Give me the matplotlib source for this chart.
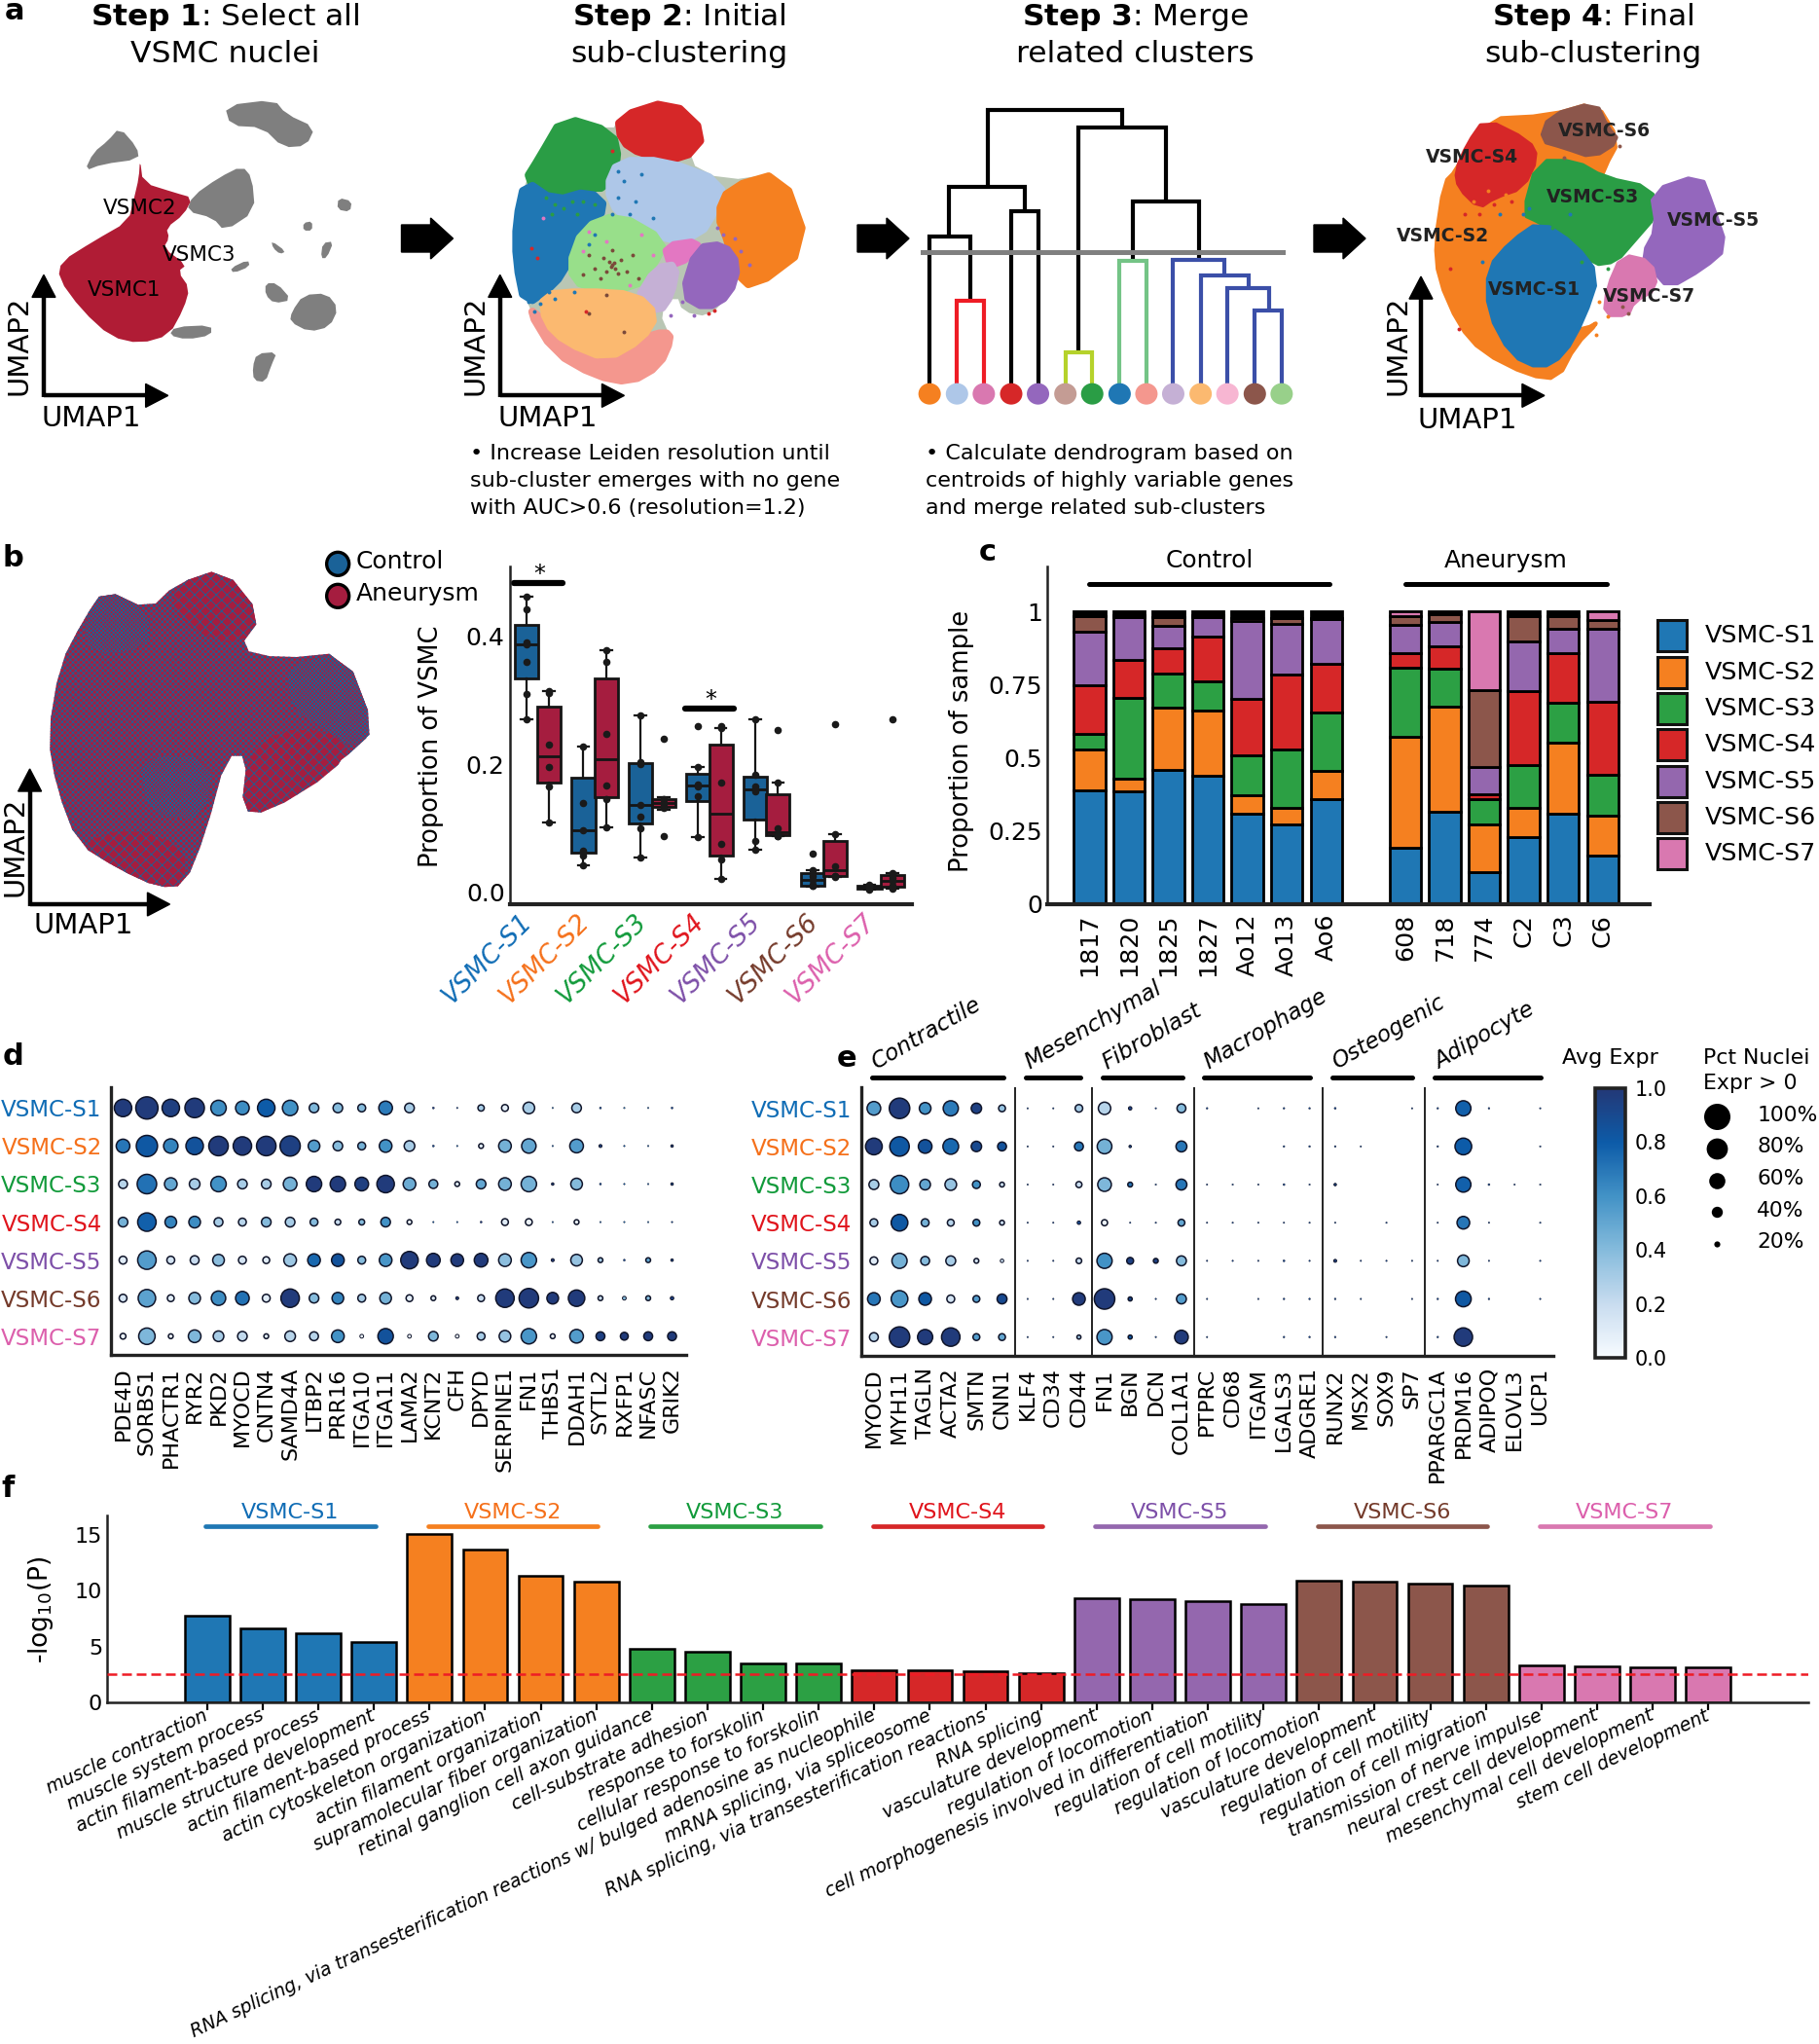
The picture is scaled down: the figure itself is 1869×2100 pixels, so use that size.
import numpy as np
import matplotlib
matplotlib.use("Agg")
import matplotlib.pyplot as plt
from matplotlib.colors import LinearSegmentedColormap
from matplotlib.patches import Polygon, Ellipse, Rectangle
from matplotlib.cm import ScalarMappable

plt.rcParams["font.family"] = ["DejaVu Sans"]
plt.rcParams["mathtext.fontset"] = "dejavusans"
plt.rcParams["mathtext.default"] = "regular"
plt.rcParams["hatch.linewidth"] = 0.6

W, H = 1869, 2100

# ---- data ----
SUBTYPES = ["VSMC-S1", "VSMC-S2", "VSMC-S3", "VSMC-S4", "VSMC-S5", "VSMC-S6", "VSMC-S7"]
FILL_COLORS = ["#1f77b4", "#f58020", "#2ca044", "#d62728", "#9467ae", "#8c564b", "#d978b0"]
LABEL_COLORS = ["#0f6cb5", "#f5701a", "#119a3a", "#e0141c", "#7d4fa8", "#743a2a", "#dc5fac"]
CONTROL_BLUE = "#1a6298"
ANEURYSM_RED = "#a51d3f"

# panel b boxes: control / aneurysm pairs per subtype
BOX_Q1 = [.334, .171, .062, .148, .108, .133, .143, .057, .113, .089, .010, .025, .005, .009]
BOX_MED = [.388, .213, .097, .208, .136, .139, .167, .123, .160, .094, .020, .035, .009, .018]
BOX_Q3 = [.417, .290, .179, .334, .202, .146, .185, .231, .181, .153, .030, .080, .010, .027]
BOX_LO = [.271, .109, .042, .102, .054, .129, .086, .021, .067, .087, .009, .024, .004, .006]
BOX_HI = [.462, .315, .227, .378, .277, .149, .196, .256, .270, .171, .035, .091, .012, .030]
BOX_POINTS = [
    [.462, .442, .391, .388, .360, .310, .271],
    [.315, .311, .230, .195, .165, .109],
    [.227, .140, .097, .065, .058, .042],
    [.378, .360, .247, .167, .145, .102],
    [.277, .203, .200, .136, .118, .100, .054],
    [.240, .146, .140, .135, .132, .088],
    [.259, .196, .168, .165, .150, .086],
    [.260, .256, .171, .076, .052, .021],
    [.270, .183, .165, .158, .080, .067],
    [.253, .171, .100, .090, .088, .087],
    [.060, .035, .025, .020, .012, .010, .010],
    [.262, .091, .040, .025, .025, .024],
    [.012, .010, .008, .006, .004],
    [.270, .030, .022, .018, .010, .006],
]

# panel c stacked fractions, one list per subtype
SAMPLES = ["1817", "1820", "1825", "1827", "Ao12", "Ao13", "Ao6", "608", "718", "774", "C2", "C3", "C6"]
SAMPLE_POS = [0, 1, 2, 3, 4, 5, 6, 8, 9, 10, 11, 12, 13]
FRAC_S1 = [.388, .387, .459, .439, .308, .271, .359, .194, .315, .108, .229, .308, .165]
FRAC_S2 = [.139, .040, .212, .222, .063, .057, .096, .376, .359, .165, .100, .245, .139]
FRAC_S3 = [.053, .276, .117, .101, .136, .199, .199, .236, .130, .087, .147, .135, .138]
FRAC_S4 = [.168, .131, .085, .152, .194, .256, .166, .050, .076, .017, .252, .169, .250]
FRAC_S5 = [.181, .146, .077, .066, .267, .175, .155, .096, .085, .093, .170, .085, .249]
FRAC_S6 = [.054, .007, .031, .006, .010, .020, .002, .031, .024, .261, .085, .041, .029]
FRAC_S7 = [.017, .013, .019, .014, .022, .022, .023, .017, .011, .269, .017, .017, .030]
# the top slice is so thin in these bars that only its outline shows
S7_HIDDEN = ["1817", "1820", "1825", "1827", "Ao12", "Ao13", "Ao6", "718", "C2", "C3"]

# panel d dot plot
D_GENES = ["PDE4D", "SORBS1", "PHACTR1", "RYR2", "PKD2", "MYOCD", "CNTN4", "SAMD4A", "LTBP2", "PRR16",
           "ITGA10", "ITGA11", "LAMA2", "KCNT2", "CFH", "DPYD", "SERPINE1", "FN1", "THBS1", "DDAH1",
           "SYTL2", "RXFP1", "NFASC", "GRIK2"]
D_PCT = [
    [65, 84, 65, 73, 57, 50, 65, 57, 34, 34, 27, 50, 34, 4, 2, 21, 23, 42, 2, 34, 4, 2, 2, 4],
    [50, 80, 53, 65, 73, 69, 73, 76, 42, 34, 27, 46, 38, 4, 2, 15, 46, 53, 2, 50, 8, 2, 2, 6],
    [31, 73, 46, 38, 57, 34, 34, 50, 57, 57, 50, 65, 46, 31, 15, 34, 46, 57, 6, 42, 4, 2, 2, 6],
    [34, 69, 42, 42, 31, 27, 34, 34, 27, 19, 19, 34, 15, 2, 2, 4, 23, 23, 2, 15, 2, 2, 2, 2],
    [27, 69, 27, 31, 42, 27, 23, 46, 46, 46, 27, 46, 65, 50, 46, 50, 46, 57, 8, 42, 15, 4, 15, 6],
    [27, 65, 23, 42, 53, 50, 27, 69, 34, 42, 27, 42, 23, 15, 8, 23, 69, 73, 42, 61, 15, 11, 15, 10],
    [19, 61, 15, 46, 38, 34, 15, 38, 31, 46, 11, 57, 11, 34, 11, 27, 42, 57, 15, 50, 31, 27, 31, 31],
]
D_EXPR = [
    [.98, .98, .96, .98, .62, .62, .80, .60, .42, .40, .40, .68, .30, .95, .90, .30, .08, .30, .70, .30, .90, .70, .70, .90],
    [.70, .82, .65, .85, .98, .98, .98, .95, .55, .40, .45, .60, .30, .90, .80, .10, .45, .50, .80, .55, .95, .80, .80, .95],
    [.25, .72, .50, .30, .60, .30, .30, .45, .98, .98, .96, .98, .48, .45, .10, .50, .45, .45, .95, .40, .90, .80, .80, .90],
    [.45, .78, .65, .62, .30, .25, .40, .30, .40, .20, .40, .60, .05, .80, .80, .98, .10, .05, .80, .05, .80, .70, .70, .90],
    [.10, .55, .15, .20, .38, .15, .10, .33, .75, .85, .40, .58, .98, .98, .98, .98, .38, .58, .98, .35, .30, .90, .50, .90],
    [.15, .52, .10, .40, .62, .72, .10, .98, .40, .65, .30, .45, .08, .10, .98, .20, .98, .98, .98, .98, .20, .40, .40, .95],
    [.05, .42, .05, .42, .30, .22, .10, .25, .25, .60, .05, .85, .05, .42, .05, .30, .35, .58, .05, .55, .95, .98, .98, .98],
]

# panel e dot plot
E_GENES = ["MYOCD", "MYH11", "TAGLN", "ACTA2", "SMTN", "CNN1", "KLF4", "CD34", "CD44", "FN1", "BGN", "DCN",
           "COL1A1", "PTPRC", "CD68", "ITGAM", "LGALS3", "ADGRE1", "RUNX2", "MSX2", "SOX9", "SP7", "PPARGC1A",
           "PRDM16", "ADIPOQ", "ELOVL3", "UCP1"]
E_PCT = [
    [50, 77, 42, 56, 37, 23, 2, 2, 26, 45, 10, 2, 31, 3, 0, 2, 3, 3, 4, 0, 0, 2, 3, 56, 3, 0, 2],
    [62, 73, 50, 58, 37, 31, 2, 2, 31, 54, 6, 0, 39, 0, 0, 0, 3, 3, 3, 2, 0, 0, 3, 62, 0, 0, 2],
    [35, 69, 38, 42, 27, 15, 2, 2, 20, 50, 15, 2, 39, 2, 2, 2, 4, 2, 6, 0, 0, 0, 2, 56, 4, 2, 2],
    [27, 62, 27, 23, 23, 15, 2, 2, 10, 20, 2, 2, 23, 2, 2, 2, 2, 2, 2, 0, 2, 0, 2, 46, 2, 0, 2],
    [27, 56, 31, 35, 15, 10, 2, 2, 18, 56, 23, 15, 35, 2, 2, 2, 4, 2, 8, 2, 2, 2, 2, 42, 2, 0, 2],
    [46, 62, 46, 27, 23, 35, 2, 2, 46, 77, 12, 2, 35, 2, 0, 2, 3, 3, 3, 2, 0, 2, 3, 58, 3, 0, 2],
    [31, 77, 56, 69, 23, 23, 2, 2, 12, 56, 12, 2, 50, 2, 0, 0, 3, 3, 3, 0, 2, 0, 3, 69, 0, 0, 0],
]
E_EXPR = [
    [.55, .98, .60, .68, .95, .35, .9, .9, .30, .25, .95, .9, .40, .9, .9, .9, .9, .9, .9, .9, .9, .9, .9, .78, .9, .9, .9],
    [.98, .82, .85, .75, .90, .85, .9, .9, .70, .45, .90, .9, .70, .9, .9, .9, .9, .9, .9, .9, .9, .9, .9, .80, .9, .9, .9],
    [.30, .62, .50, .35, .60, .20, .9, .9, .20, .42, .70, .9, .70, .9, .9, .9, .9, .9, .9, .9, .9, .9, .9, .78, .9, .9, .9],
    [.30, .82, .45, .25, .60, .20, .9, .9, .90, .05, .90, .9, .50, .9, .9, .9, .9, .9, .9, .9, .9, .9, .9, .70, .9, .9, .9],
    [.10, .45, .40, .30, .15, .20, .9, .9, .20, .60, .95, .95, .40, .9, .9, .9, .9, .9, .95, .9, .9, .9, .9, .42, .9, .9, .9],
    [.70, .58, .82, .15, .55, .90, .9, .9, .98, .98, .90, .9, .55, .9, .9, .9, .9, .9, .9, .9, .9, .9, .9, .82, .9, .9, .9],
    [.25, .98, .98, .98, .55, .50, .9, .9, .30, .58, .80, .9, .98, .9, .9, .9, .9, .9, .9, .9, .9, .9, .9, .98, .9, .9, .9],
]
E_GROUPS = ["Contractile", "Mesenchymal", "Fibroblast", "Macrophage", "Osteogenic", "Adipocyte"]
E_GROUP_SPANS = [(192, 383), (415, 495), (527, 643), (675, 829), (861, 977), (1010, 1164)]
E_SEPARATORS = [5.5, 8.5, 12.5, 17.5, 21.5]
SIZE_LEGEND = [100, 80, 60, 40, 20]

# panel f bars
F_TERMS = ["muscle contraction", "muscle system process", "actin filament-based process",
           "muscle structure development", "actin filament-based process", "actin cytoskeleton organization",
           "actin filament organization", "supramolecular fiber organization",
           "retinal ganglion cell axon guidance", "cell-substrate adhesion", "response to forskolin",
           "cellular response to forskolin",
           "RNA splicing, via transesterification reactions w/ bulged adenosine as nucleophile",
           "mRNA splicing, via spliceosome", "RNA splicing, via transesterification reactions", "RNA splicing",
           "vasculature development", "regulation of locomotion",
           "cell morphogenesis involved in differentiation", "regulation of cell motility",
           "regulation of locomotion", "vasculature development", "regulation of cell motility",
           "regulation of cell migration", "transmission of nerve impulse", "neural crest cell development",
           "mesenchymal cell development", "stem cell development"]
F_VALUES = [7.8, 6.66, 6.2, 5.4, 15.1, 13.7, 11.35, 10.85, 4.8, 4.5, 3.5, 3.5, 2.9, 2.85, 2.8, 2.6,
            9.35, 9.2, 9.1, 8.8, 10.9, 10.8, 10.6, 10.5, 3.3, 3.2, 3.15, 3.15]
F_THRESHOLD = 2.5

# outlines (crop coordinates of each zoom)
RED_NUCLEI = [(240, 475), (245, 545), (300, 575), (330, 590), (315, 640), (285, 680), (290, 710), (280, 740), (320, 790),
              (305, 810), (325, 860), (315, 920), (290, 1000), (240, 1025), (190, 1005), (140, 925), (100, 830),
              (105, 780), (160, 720), (220, 660), (230, 590), (238, 530)]
GREY_NUCLEI = [
    [(385, 315), (470, 297), (490, 340), (540, 380), (525, 435), (485, 440), (450, 380), (395, 375)],
    [(205, 380), (235, 440), (238, 475), (175, 490), (145, 510), (160, 455), (185, 420)],
    [(415, 495), (432, 530), (437, 630), (385, 690), (365, 650), (320, 630), (330, 585), (375, 530)],
    [(580, 590), (603, 600), (600, 632), (578, 625)],
    [(520, 665), (535, 660), (535, 688), (520, 688)],
    [(465, 718), (490, 750), (480, 758), (468, 740)],
    [(553, 725), (572, 720), (560, 770), (550, 770)],
    [(395, 800), (425, 775), (428, 795), (400, 815)],
    [(455, 845), (475, 845), (500, 895), (470, 905), (455, 880)],
    [(520, 880), (560, 875), (580, 920), (565, 975), (530, 990), (497, 960), (500, 930)],
    [(300, 975), (362, 970), (362, 1000), (320, 1013), (290, 1000)],
    [(440, 1055), (475, 1050), (465, 1090), (455, 1140), (435, 1135), (433, 1095)],
]
STEP2_OUTLINE = [(965, 350), (1050, 390), (1060, 350), (1150, 300), (1210, 400), (1175, 480), (1240, 540), (1340, 515),
                 (1385, 735), (1290, 860), (1260, 820), (1250, 880), (1215, 945), (1170, 930), (1160, 880), (1130, 930),
                 (1150, 1010), (1130, 1090), (1080, 1140), (1020, 1120), (950, 1050), (905, 920), (885, 780), (885, 660),
                 (900, 540), (925, 470)]
STEP2_REGIONS = [
    ("#2a9d45", [(965, 350), (1050, 395), (1060, 480), (1040, 560), (1000, 560), (950, 600), (900, 540), (925, 470)]),
    ("#d62728", [(1060, 350), (1150, 300), (1210, 400), (1170, 480), (1100, 460), (1065, 420)]),
    ("#aec7e8", [(1060, 480), (1140, 480), (1240, 545), (1225, 630), (1200, 700), (1140, 720), (1060, 640), (1040, 560)]),
    ("#f58020", [(1250, 560), (1340, 515), (1385, 735), (1290, 860), (1260, 810), (1250, 730), (1230, 640)]),
    ("#1f77b4", [(900, 540), (950, 600), (1010, 570), (1040, 620), (1000, 680), (975, 780), (950, 850), (900, 910), (885, 780), (885, 660)]),
    ("#98df8a", [(1060, 640), (1140, 720), (1120, 790), (1090, 860), (1000, 860), (975, 800), (1000, 680)]),
    ("#e377c2", [(1140, 735), (1200, 720), (1180, 770), (1150, 790)]),
    ("#9467bd", [(1195, 740), (1240, 730), (1265, 790), (1250, 880), (1210, 920), (1170, 880)]),
    ("#c5b0d5", [(1125, 800), (1160, 790), (1150, 880), (1130, 930), (1090, 900)]),
    ("#f4978e", [(905, 920), (935, 960), (970, 1020), (1040, 1070), (1100, 1010), (1140, 990), (1150, 1010), (1130, 1090), (1080, 1140), (1020, 1120), (950, 1050)]),
    ("#fbb970", [(930, 880), (1000, 870), (1090, 880), (1125, 940), (1100, 1010), (1040, 1070), (970, 1020), (935, 960)]),
]
STEP2_SPECKLES = [
    ("#7b4a3a", [(1050, 790), (1045, 780), (1055, 800), (1035, 770), (1065, 775), (1040, 810), (1060, 815), (1020, 800),
                 (1075, 810), (1010, 760), (1030, 830), (1085, 760), (1000, 820), (1095, 830), (1050, 745), (1040, 880),
                 (1070, 990), (1010, 935), (1048, 795), (1052, 785)]),
    ("#2a9d45", [(950, 610), (965, 620), (935, 590), (980, 600), (945, 640), (990, 640), (1020, 610), (1000, 600)]),
    ("#1f77b4", [(1060, 510), (1070, 540), (1090, 600), (1060, 590), (1100, 520), (1080, 640), (1120, 650), (1050, 640),
                 (905, 900), (925, 905), (915, 930), (950, 890), (940, 870), (985, 870), (1020, 700), (1010, 730)]),
    ("#9467bd", [(1170, 900), (1190, 940), (1150, 940), (1240, 700), (1260, 710), (1270, 750), (1230, 680), (1285, 790)]),
    ("#d62728", [(1215, 935), (1225, 925), (1005, 930), (920, 770), (910, 740), (1050, 450)]),
    ("#e377c2", [(1000, 750), (1100, 700), (1120, 760), (1010, 690), (1040, 720), (930, 650), (1080, 850)]),
]
STEP4_REGIONS = [
    ("#f58020", [(995, 355), (1105, 345), (1185, 305), (1225, 420), (1200, 500), (1150, 720), (1100, 1000), (1170, 980), (1190, 960), (1150, 1030), (1120, 1130), (1070, 1120), (990, 1050), (950, 970), (915, 830), (910, 720), (925, 545), (945, 510)]),
    ("#d62728", [(995, 355), (1070, 420), (1085, 470), (1060, 560), (1010, 590), (985, 620), (950, 560), (945, 510), (965, 430)]),
    ("#8c564b", [(1105, 345), (1185, 305), (1205, 380), (1225, 420), (1180, 470), (1130, 440), (1090, 420)]),
    ("#2a9d45", [(1085, 480), (1150, 480), (1200, 530), (1280, 560), (1290, 640), (1250, 720), (1220, 780), (1180, 790), (1150, 720), (1085, 660), (1060, 640)]),
    ("#1f77b4", [(1090, 660), (1150, 730), (1190, 820), (1165, 950), (1130, 1060), (1090, 1100), (1040, 1060), (1000, 930), (1000, 800), (1040, 720)]),
    ("#9467bd", [(1280, 570), (1365, 520), (1385, 610), (1410, 740), (1370, 800), (1310, 860), (1280, 800), (1265, 760), (1290, 680)]),
    ("#d978b0", [(1230, 760), (1280, 780), (1290, 860), (1250, 900), (1240, 940), (1200, 940), (1205, 860)]),
]
STEP4_SPECKLES = [
    ("#2a9d45", [(1150, 700), (1170, 740), (1190, 770), (1130, 690), (1110, 680), (1205, 800), (1160, 780)]),
    ("#f58020", [(975, 600), (1000, 570), (1030, 580), (1190, 900), (1185, 1000), (1205, 945)]),
    ("#d62728", [(960, 640), (935, 800), (950, 980), (985, 640), (1010, 610), (1040, 600)]),
    ("#1f77b4", [(1020, 640), (1060, 640), (990, 780), (1070, 620), (1140, 640)]),
    ("#8c564b", [(1240, 935), (1230, 915), (1225, 435), (1130, 470)]),
]
STEP4_LABELS = [("VSMC-S6", 1200, 390), ("VSMC-S4", 973, 470), ("VSMC-S3", 1180, 587), ("VSMC-S5", 1387, 657),
                ("VSMC-S2", 923, 705), ("VSMC-S1", 1080, 865), ("VSMC-S7", 1277, 885)]
MIXED_OUTLINE = [(175, 165), (250, 230), (295, 150), (375, 100), (440, 250), (400, 350), (470, 380), (580, 360), (630, 600),
                 (570, 700), (450, 855), (405, 850), (415, 680), (380, 680), (345, 920), (310, 1080), (265, 1085),
                 (200, 1030), (130, 950), (95, 780), (80, 620), (100, 400), (140, 260)]
MIXED_RED_LOBES = [[(295, 150), (375, 100), (440, 250), (400, 340), (330, 300), (290, 230)],
                   [(415, 680), (470, 600), (540, 600), (590, 640), (560, 730), (450, 855), (405, 850)],
                   [(130, 950), (220, 900), (310, 960), (310, 1080), (265, 1085), (200, 1030)]]
MIXED_BLUE_LOBES = [[(480, 400), (580, 360), (630, 600), (590, 660), (540, 590), (490, 540)],
                    [(140, 260), (175, 165), (250, 230), (250, 350), (150, 370)],
                    [(230, 680), (360, 680), (345, 880), (250, 860)]]

# dendrogram: leaves and links, crop coordinates
LEAF_X = [42, 89, 135, 182, 228, 275, 321, 368, 414, 460, 507, 553, 600, 646]
LEAF_COLORS = ["#f58020", "#aec7e8", "#d978b0", "#d62728", "#9467bd", "#c49c94", "#2a9d45", "#1f77b4", "#f4978e",
               "#c5b0d5", "#fbb970", "#f7b6d2", "#8c564b", "#98d08a"]
DENDRO_LINKS = [
    ("black", [(42, 1150), (42, 707), (112, 707), (112, 895)]),
    ("#ee1c25", [(89, 1150), (89, 897), (135, 897), (135, 1150)]),
    ("black", [(182, 1150), (182, 630), (228, 630), (228, 1150)]),
    ("black", [(75, 707), (75, 557), (205, 557), (205, 630)]),
    ("black", [(142, 557), (142, 327), (373, 327), (373, 380)]),
    ("black", [(298, 1050), (298, 380), (448, 380), (448, 600)]),
    ("#b5d22b", [(275, 1150), (275, 1050), (321, 1050), (321, 1150)]),
    ("black", [(391, 778), (391, 600), (504, 600), (504, 775)]),
    ("#74c486", [(368, 1150), (368, 778), (414, 778), (414, 1150)]),
    ("#3b4fa8", [(460, 1150), (460, 775), (547, 775), (547, 822)]),
    ("#3b4fa8", [(507, 1150), (507, 822), (589, 822), (589, 860)]),
    ("#3b4fa8", [(553, 1150), (553, 860), (624, 860), (624, 926)]),
    ("#3b4fa8", [(600, 1150), (600, 926), (646, 926), (646, 1150)]),
]

expr_cmap = LinearSegmentedColormap.from_list(
    "expr", ["#f7fbff", "#c8dcef", "#85bbdc", "#4292c6", "#0d5ba8", "#233876"])

fig = plt.figure(figsize=(W / 100, H / 100), dpi=100, facecolor="white")


# axes placed by target pixels
def ax_px(x0, y0, x1, y1, **kw):
    return fig.add_axes([x0 / W, 1 - y1 / H, (x1 - x0) / W, (y1 - y0) / H], **kw)


# overlay for everything that has no scale
ov = ax_px(0, 0, W, H, zorder=1)
ov.set_xlim(0, W)
ov.set_ylim(H, 0)
ov.axis("off")

# crops: (left, top, horizontal scale, vertical scale)
CROP_A = (0, 0, 1568 / 940, 1568 / 540)
CROP_A2 = (930, 0, 1568 / 939, 1568 / 540)
CROP_B = (0, 550, 1568 / 960, 3)
CROP_C = (960, 550, 1568 / 909, 3)
CROP_E = (760, 1030, 1568 / 1109, 3)


def to_px(crop, pts):
    return [(crop[0] + x / crop[2], crop[1] + y / crop[3]) for x, y in pts]


def one(crop, x, y):
    return crop[0] + x / crop[2], crop[1] + y / crop[3]


# round off the traced corners
def rounded(pts, rounds=1):
    pts = np.array(pts, dtype=float)
    for _ in range(rounds):
        nxt = np.roll(pts, -1, axis=0)
        pts = np.column_stack([0.75 * pts + 0.25 * nxt, 0.25 * pts + 0.75 * nxt]).reshape(-1, 2)
    return pts


def blob(crop, pts, **kw):
    ov.add_patch(Polygon(rounded(to_px(crop, pts)), joinstyle="round", **kw))


def speckles(crop, groups):
    for col, pts in groups:
        xy = np.array(to_px(crop, pts))
        ov.scatter(xy[:, 0], xy[:, 1], s=8, color=col, lw=0, zorder=3)


def umap_axes(crop, cx, cy, tip_x, top_y, lab1, lab2):
    x0, y0 = one(crop, cx, cy)
    xt, _ = one(crop, tip_x, cy)
    _, yt = one(crop, cx, top_y)
    ov.plot([x0, xt - 20], [y0, y0], color="black", lw=3.2, solid_capstyle="butt", zorder=6)
    ov.plot([x0, x0], [y0 + 2, yt + 20], color="black", lw=3.2, solid_capstyle="butt", zorder=6)
    ov.add_patch(Polygon([(xt - 23, y0 - 12), (xt, y0), (xt - 23, y0 + 12)], color="black", zorder=6))
    ov.add_patch(Polygon([(x0 - 12, yt + 23), (x0, yt), (x0 + 12, yt + 23)], color="black", zorder=6))
    px, py = one(crop, *lab1)
    ov.text(px, py + 3, "UMAP1", fontsize=21, ha="center", va="center", zorder=7)
    px, py = one(crop, *lab2)
    ov.text(px, py, "UMAP2", fontsize=21, rotation=90, ha="center", va="center", zorder=7)


def step_arrow(x):
    y = 245
    ov.add_patch(Polygon([(x, y - 14), (x + 30, y - 14), (x + 30, y - 21), (x + 53, y), (x + 30, y + 21),
                          (x + 30, y + 14), (x, y + 14)], color="black", zorder=6))


# ---- panel a ----
titles = [(231, r"$\mathbf{Step\ 1}$: Select all", "VSMC nuclei"),
          (698, r"$\mathbf{Step\ 2}$: Initial", "sub-clustering"),
          (1166, r"$\mathbf{Step\ 3}$: Merge", "related clusters"),
          (1637, r"$\mathbf{Step\ 4}$: Final", "sub-clustering")]
for x, l1, l2 in titles:
    ov.text(x, 26, l1, fontsize=22.6, ha="center", va="baseline")
    ov.text(x, 64, l2, fontsize=22.6, ha="center", va="baseline")

for outline in GREY_NUCLEI:
    blob(CROP_A, outline, color="#7f7f7f", lw=0)
blob(CROP_A, RED_NUCLEI, color="#b01c35", lw=0)
for name, x, y in [("VSMC2", 240, 622), ("VSMC3", 342, 760), ("VSMC1", 212, 865)]:
    ov.text(*one(CROP_A, x, y), name, fontsize=15.5, ha="center", va="center", zorder=5)
umap_axes(CROP_A, 75, 1180, 288, 820, (157, 1240), (32, 1030))

blob(CROP_A, STEP2_OUTLINE, color="#b9c6b4", lw=0)
for col, outline in STEP2_REGIONS:
    blob(CROP_A, outline, facecolor=col, edgecolor=col, lw=6)
speckles(CROP_A, STEP2_SPECKLES)
umap_axes(CROP_A, 857, 1180, 1070, 820, (938, 1240), (815, 1030))
step_arrow(412.5)
step_arrow(881)
step_arrow(1350)

for i, line in enumerate(["• Increase Leiden resolution until", "sub-cluster emerges with no gene",
                          "with AUC>0.6 (resolution=1.2)"]):
    ov.text(482.6, 466 + i * 28, line, fontsize=16, ha="left", va="center")
for i, line in enumerate(["• Calculate dendrogram based on", "centroids of highly variable genes",
                          "and merge related sub-clusters"]):
    ov.text(951, 466 + i * 28, line, fontsize=16, ha="left", va="center")

# dendrogram
for col, pts in DENDRO_LINKS:
    xy = np.array(to_px(CROP_A2, pts))
    ov.plot(xy[:, 0], xy[:, 1], color=col, lw=3, solid_joinstyle="miter", solid_capstyle="butt")
gx = to_px(CROP_A2, [(30, 752), (648, 752)])
ov.plot([gx[0][0], gx[1][0]], [gx[0][1], gx[1][1]], color="#808080", lw=3.6, zorder=3)
for x, col in zip(LEAF_X, LEAF_COLORS):
    ov.add_patch(Ellipse(one(CROP_A2, x, 1175), 23, 22, color=col, lw=0, zorder=4))

for col, outline in STEP4_REGIONS:
    blob(CROP_A2, outline, facecolor=col, edgecolor=col, lw=3)
speckles(CROP_A2, STEP4_SPECKLES)
for name, x, y in STEP4_LABELS:
    ov.text(*one(CROP_A2, x, y), name, fontsize=13.5, fontweight="bold", ha="center", va="center", color="#222222", zorder=5)
umap_axes(CROP_A2, 885, 1180, 1097, 825, (965, 1245), (845, 1030))

# ---- panel b umap ----
blob(CROP_B, MIXED_OUTLINE, facecolor=ANEURYSM_RED, edgecolor=CONTROL_BLUE, lw=0, hatch="xxxxxx")
for outline in MIXED_RED_LOBES:
    blob(CROP_B, outline, facecolor=ANEURYSM_RED, edgecolor=CONTROL_BLUE, lw=0, hatch="xxx")
for outline in MIXED_BLUE_LOBES:
    blob(CROP_B, outline, facecolor=ANEURYSM_RED, edgecolor=CONTROL_BLUE, lw=0, hatch="xxxxxxxx")
umap_axes(CROP_B, 50, 1137, 285, 720, (140, 1195), (26, 960))
for y, col, name in [(88, CONTROL_BLUE, "Control"), (187, ANEURYSM_RED, "Aneurysm")]:
    ov.add_patch(Ellipse(one(CROP_B, 567, y), 23, 24, facecolor=col, edgecolor="black", lw=2.4, zorder=5))
    ov.text(*one(CROP_B, 597, y - 6), name, fontsize=18, ha="left", va="center", zorder=5)

# ---- panel b boxes ----
ax_b = ax_px(523.6, 582, 937, 929)
ax_b.patch.set_alpha(0)
pos_b = []
for i in range(7):
    pos_b += [i - 0.2, i + 0.2]
stats = [dict(med=m, q1=a, q3=b, whislo=lo, whishi=hi, fliers=[])
         for m, a, b, lo, hi in zip(BOX_MED, BOX_Q1, BOX_Q3, BOX_LO, BOX_HI)]
art = ax_b.bxp(stats, positions=pos_b, widths=0.41, patch_artist=True, showfliers=False,
               boxprops=dict(edgecolor="#151515", linewidth=2),
               medianprops=dict(color="#151515", linewidth=2),
               whiskerprops=dict(color="#151515", linewidth=1.6),
               capprops=dict(color="#151515", linewidth=1.6), capwidths=0.2)
for i, box in enumerate(art["boxes"]):
    box.set_facecolor(CONTROL_BLUE if i % 2 == 0 else ANEURYSM_RED)
for p, vals in zip(pos_b, BOX_POINTS):
    ax_b.scatter([p] * len(vals), vals, s=30, color="#1a1a1a", zorder=5, lw=0)
ax_b.plot([-0.42, 0.43], [.483, .483], color="black", lw=4.5, solid_capstyle="round", clip_on=False)
ax_b.plot([2.58, 3.42], [.287, .287], color="black", lw=4.5, solid_capstyle="round")
ax_b.text(0.03, .497, "*", fontsize=17, ha="center", va="center")
ax_b.text(3.03, .300, "*", fontsize=17, ha="center", va="center")
ax_b.set_xlim(-0.49, 6.54)
ax_b.set_ylim(-0.0187, 0.509)
ax_b.set_yticks([0, .2, .4])
ax_b.set_yticklabels(["0.0", "0.2", "0.4"], fontsize=18)
ax_b.set_xticks(range(7))
ax_b.set_xticklabels(SUBTYPES, rotation=45, ha="right", va="bottom", rotation_mode="anchor", fontsize=19, style="italic")
for lab, col in zip(ax_b.get_xticklabels(), LABEL_COLORS):
    lab.set_color(col)
ax_b.tick_params(length=0)
ax_b.tick_params(axis="x", pad=17)
ax_b.set_ylabel("Proportion of VSMC", fontsize=18.5)
ax_b.yaxis.set_label_coords(-0.1635, 0.467)
ax_b.spines[["top", "right"]].set_visible(False)
ax_b.spines["left"].set_linewidth(1.8)
ax_b.spines["bottom"].set_linewidth(3)
ax_b.spines[["left", "bottom"]].set_color("#222222")

# ---- panel c ----
ax_c = ax_px(1076, 582, 1695, 929)
ax_c.patch.set_alpha(0)
bottom = np.zeros(len(SAMPLES))
for col, frac in zip(FILL_COLORS[:6], [FRAC_S1, FRAC_S2, FRAC_S3, FRAC_S4, FRAC_S5, FRAC_S6]):
    ax_c.bar(SAMPLE_POS, frac, bottom=bottom, width=0.8, color=col, edgecolor="black", linewidth=2)
    bottom += np.array(frac)
top_colors = ["black" if s in S7_HIDDEN else FILL_COLORS[6] for s in SAMPLES]
ax_c.bar(SAMPLE_POS, FRAC_S7, bottom=bottom, width=0.8, color=top_colors, edgecolor="black", linewidth=2)
ax_c.set_xlim(-1.07, 14.19)
ax_c.set_ylim(0, 1.153)
ax_c.set_yticks([0, .25, .5, .75, 1])
ax_c.set_yticklabels(["0", "0.25", "0.5", "0.75", "1"], fontsize=18)
ax_c.set_xticks(SAMPLE_POS)
ax_c.set_xticklabels(SAMPLES, rotation=90, fontsize=18.3)
ax_c.tick_params(length=0)
ax_c.tick_params(axis="x", pad=7)
ax_c.set_ylabel("Proportion of sample", fontsize=18.6)
ax_c.yaxis.set_label_coords(-0.1218, 0.482)
ax_c.spines[["top", "right"]].set_visible(False)
ax_c.spines["left"].set_linewidth(1.8)
ax_c.spines["bottom"].set_linewidth(3)
ax_c.spines[["left", "bottom"]].set_color("#222222")
for label, (a, b), xc in [("Control", (275, 700), 487), ("Aneurysm", (835, 1192), 1013)]:
    xa, ya = one(CROP_C, a, 150)
    xb, _ = one(CROP_C, b, 150)
    ov.plot([xa, xb], [ya, ya], color="black", lw=3.6, solid_capstyle="round", zorder=5)
    ov.text(*one(CROP_C, xc, 78), label, fontsize=18, ha="center", va="center", zorder=5)
for i, (name, col) in enumerate(zip(SUBTYPES, FILL_COLORS)):
    x0, y0 = one(CROP_C, 1282, 262 + i * 112)
    x1, y1 = one(CROP_C, 1334, 358 + i * 112)
    ov.add_patch(Rectangle((x0, y0), x1 - x0, y1 - y0, facecolor=col, edgecolor="#111111", lw=2.2, zorder=5))
    ov.text(*one(CROP_C, 1365, 310 + i * 112), name, fontsize=18.3, ha="left", va="center", zorder=5)


# ---- panels d and e ----
def dot_size(pct):
    dia_px = 1 + 0.26 * np.asarray(pct, dtype=float)
    return (dia_px * 0.72) ** 2


def dot_panel(ax, genes, pct, expr):
    pct = np.array(pct, dtype=float)
    expr = np.array(expr, dtype=float)
    rows, cols = np.nonzero(pct)
    vals = pct[rows, cols]
    widths = np.where(vals < 6, 0.3, np.where(vals < 12, 0.7, 1.1))
    ax.scatter(cols, rows, s=dot_size(vals), c=expr[rows, cols], cmap=expr_cmap, vmin=0, vmax=1,
               edgecolors="#10152a", linewidths=widths, zorder=3)
    ax.set_xticks(range(len(genes)))
    ax.set_xticklabels(genes, rotation=90, fontsize=16)
    ax.set_yticks(range(7))
    ax.set_yticklabels(SUBTYPES, fontsize=16.6)
    for lab, col in zip(ax.get_yticklabels(), LABEL_COLORS):
        lab.set_color(col)
    ax.tick_params(length=0, pad=7)
    ax.tick_params(axis="x", pad=9)
    ax.spines[["top", "right"]].set_visible(False)
    ax.spines[["left", "bottom"]].set_linewidth(2.4)
    ax.spines[["left", "bottom"]].set_color("#222222")


ax_d = ax_px(114.4, 1117, 705, 1392)
ax_d.set_xlim(-0.49, 23.59)
ax_d.set_ylim(6.49, -0.545)
dot_panel(ax_d, D_GENES, D_PCT, D_EXPR)

ax_e = ax_px(885, 1117, 1596, 1392.7)
ax_e.set_xlim(-0.49, 26.51)
ax_e.set_ylim(6.485, -0.554)
dot_panel(ax_e, E_GENES, E_PCT, E_EXPR)
for x in E_SEPARATORS:
    ax_e.axvline(x, color="#222222", lw=1.4, zorder=1)

for name, (a, b) in zip(E_GROUPS, E_GROUP_SPANS):
    xa, ya = one(CROP_E, a, 232)
    xb, _ = one(CROP_E, b, 232)
    ov.plot([xa, xb], [ya, ya], color="black", lw=3.6, solid_capstyle="round", zorder=5)
    ov.text(xa + 7, ya - 4, name, fontsize=16.6, style="italic", rotation=30, ha="left", va="bottom",
            rotation_mode="anchor", zorder=5)

cax = ax_px(1639, 1118, 1670, 1395)
cb = fig.colorbar(ScalarMappable(cmap=expr_cmap, norm=plt.Normalize(0, 1)), cax=cax)
cb.set_ticks([0, .2, .4, .6, .8, 1])
cb.ax.tick_params(length=0, labelsize=15, pad=7)
cb.outline.set_linewidth(2.6)
cb.outline.set_edgecolor("#222222")
ov.text(*one(CROP_E, 1195, 172), "Avg Expr", fontsize=16, ha="left", va="center", zorder=5)
ov.text(*one(CROP_E, 1400, 172), "Pct Nuclei", fontsize=15.8, ha="left", va="center", zorder=5)
ov.text(*one(CROP_E, 1400, 250), "Expr > 0", fontsize=15.8, ha="left", va="center", zorder=5)
for i, pct in enumerate(SIZE_LEGEND):
    x, y = one(CROP_E, 1420, 352 + i * 98)
    ov.scatter([x], [y], s=dot_size(pct), color="black", lw=0, zorder=5)
    ov.text(*one(CROP_E, 1478, 347 + i * 98), f"{pct}%", fontsize=15.7, ha="left", va="center", zorder=5)

# ---- panel f ----
ax_f = ax_px(110, 1557, 1858, 1749)
ax_f.patch.set_alpha(0)
x_f = np.arange(len(F_VALUES))
f_colors = [FILL_COLORS[i // 4] for i in x_f]
ax_f.bar(x_f, F_VALUES, width=0.8, color=f_colors, edgecolor="black", linewidth=1.8)
ax_f.axhline(F_THRESHOLD, color="#ee1c25", lw=1.8, ls=(0, (4, 2)), zorder=5)
ax_f.set_xlim(-1.8, 28.8)
ax_f.set_ylim(0, 16.74)
ax_f.set_yticks([0, 5, 10, 15])
ax_f.tick_params(axis="y", length=0, labelsize=16)
ax_f.set_xticks(x_f)
ax_f.set_xticklabels(F_TERMS, rotation=25, ha="right", va="center", rotation_mode="anchor", fontsize=13.6, style="italic")
ax_f.tick_params(axis="x", length=6, width=1.6, pad=3)
ax_f.set_ylabel("-log$_{10}$(P)", fontsize=19)
ax_f.yaxis.set_label_coords(-0.0303, 0.497)
ax_f.spines[["top", "right"]].set_visible(False)
ax_f.spines[["left", "bottom"]].set_linewidth(1.8)
ax_f.spines[["left", "bottom"]].set_color("#222222")
for i, name in enumerate(SUBTYPES):
    a = i * 4 - 0.03
    ax_f.plot([a, a + 3.06], [15.8, 15.8], color=FILL_COLORS[i], lw=3.4, solid_capstyle="round", clip_on=False)
    ax_f.text(a + 1.53, 17.0, name, color=LABEL_COLORS[i], fontsize=16, ha="center", va="center", clip_on=False)

# panel letters
for letter, x, y in [("a", 15, 12), ("b", 13, 573), ("c", 1015, 568), ("d", 14, 1086), ("e", 870, 1087), ("f", 8, 1530)]:
    ov.text(x, y, letter, fontsize=22, fontweight="bold", ha="center", va="center", zorder=8)

fig.savefig("out.png", dpi=100, facecolor="white")
